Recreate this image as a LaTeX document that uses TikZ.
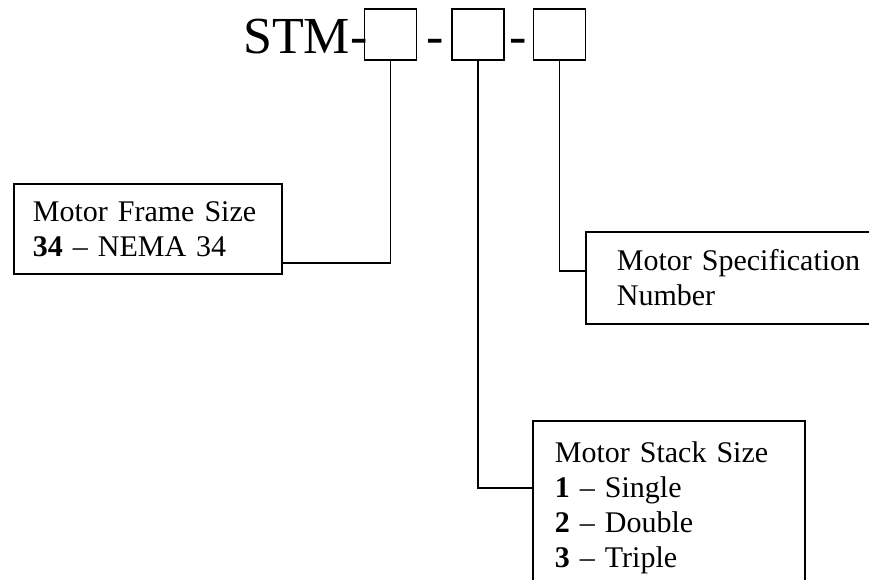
\documentclass[tikz,border=0pt]{standalone}
\usepackage{fontspec}
\setmainfont{Liberation Serif}
\usetikzlibrary{positioning}

\tikzset{
  infobox/.style={draw, line width=1.8pt, align=left, inner ysep=0pt, anchor=north west,
    font=\fontsize{30}{35}\selectfont},
  digitbox/.style={draw, line width=1.8pt, minimum width=52pt, minimum height=51pt, inner sep=0pt},
  lead/.style={line width=1.8pt}
}

\begin{document}
\begin{tikzpicture}[x=1pt,y=-1pt]
  \useasboundingbox (0,0) rectangle (869,579);
  % part number
  \node[anchor=base west, inner sep=0pt, font=\fontsize{52}{60}\selectfont] (stm) at (243,53) {STM-};
  \node[digitbox] (framedigit) at (390.5,34.5) {};
  \node[anchor=base, inner sep=0pt, font=\fontsize{52}{60}\selectfont] (dashA) at (435.5,53) {-};
  \node[digitbox] (stackdigit) at (478,34.5) {};
  \node[anchor=base, inner sep=0pt, font=\fontsize{52}{60}\selectfont] (dashB) at (518,53) {-};
  \node[digitbox] (specdigit) at (559.5,34.5) {};

  % legends
  \node[infobox, inner xsep=19pt, text width=230pt, minimum height=90pt] (framebox) at (13,183)
    {\mbox{Motor Frame Size}\\ \textbf{34} – NEMA 34};
  \node[infobox, inner xsep=31pt, text width=250pt, minimum height=92pt] (specbox) at (585,231)
    {\mbox{Motor Specification}\\ Number};
  \node[infobox, inner xsep=22pt, text width=228pt, minimum height=173pt] (stackbox) at (532,420)
    {Motor Stack Size\\ \textbf{1} – Single\\ \textbf{2} – Double\\ \textbf{3} – Triple};

  \draw[lead] (framedigit.south) |- ([yshift=12pt]framebox.south east);
  \draw[lead] (specdigit.south) |- ([yshift=-40pt]specbox.north west);
  \draw[lead] (stackdigit.south) |- ([yshift=-68pt]stackbox.north west);
\end{tikzpicture}
\end{document}
